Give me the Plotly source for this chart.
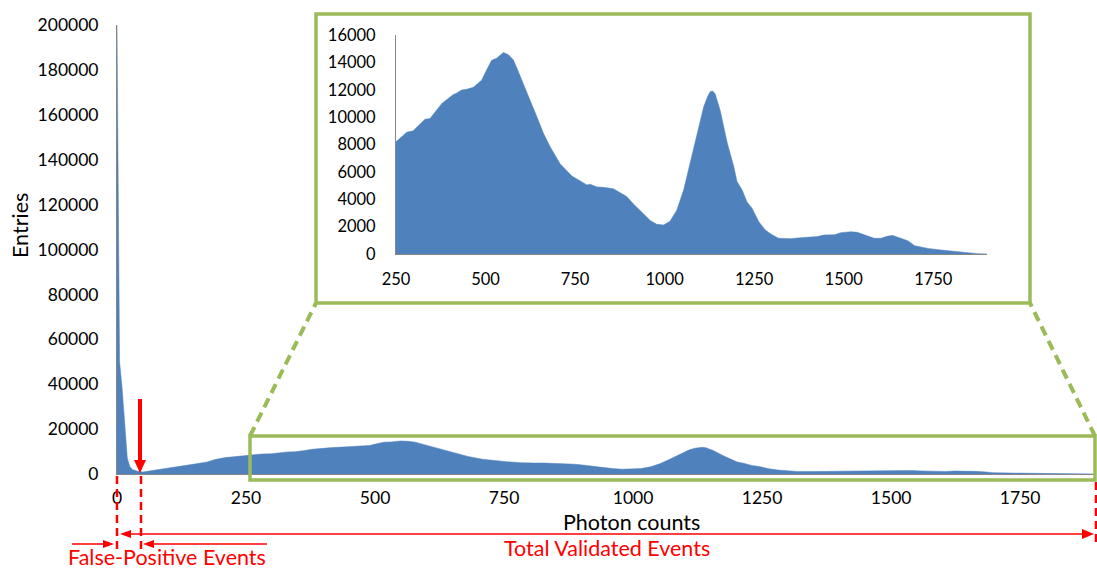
import plotly.graph_objects as go

# ---------------- data ----------------
photon_counts = [0, 5, 10, 15, 20, 25, 30, 40, 50, 75, 100, 125, 150, 175, 190, 210, 230,
                 250, 280, 298, 331, 345, 364, 378, 410, 419, 433, 447, 466, 489, 503, 517, 531,
                 550, 564, 578, 592, 606, 624, 643, 662, 680, 708, 741, 755, 783, 792, 811, 829,
                 857, 876, 894, 913, 941, 960, 978, 997, 1015, 1034, 1053, 1071, 1090, 1109, 1120,
                 1127, 1134, 1141, 1155, 1175, 1193, 1202, 1216, 1230, 1244, 1263, 1281, 1300, 1318, 1351,
                 1379, 1407, 1426, 1445, 1474, 1492, 1520, 1538, 1557, 1585, 1604, 1623, 1637, 1660,
                 1679, 1698, 1735, 1772, 1809, 1846, 1874, 1900]
entries = [200000, 50000, 38000, 22000, 7000, 3200, 2000, 1200, 900, 1800, 2600, 3500, 4400, 5400, 6500, 7300, 7900,
           8200, 8900, 9000, 9850, 9900, 10500, 11000, 11650, 11750, 11980, 12030, 12180, 12700, 13450, 14150, 14300,
           14730, 14550, 14170, 13300, 12450, 11250, 10050, 8800, 7850, 6600, 5700, 5480, 5050, 5100, 4900, 4870,
           4770, 4480, 4200, 3650, 2970, 2440, 2170, 2120, 2400, 3200, 4680, 6600, 8800, 10750, 11500,
           11850, 11900, 11700, 10500, 8100, 6400, 5300, 4700, 3800, 3350, 2350, 1750, 1400, 1150, 1120,
           1190, 1220, 1270, 1390, 1410, 1560, 1630, 1580, 1390, 1150, 1150, 1310, 1360, 1170,
           970, 610, 410, 290, 195, 50, 25, 0]

main_y_ticks = [0, 20000, 40000, 60000, 80000, 100000, 120000, 140000, 160000, 180000, 200000]
main_x_ticks = [0, 250, 500, 750, 1000, 1250, 1500, 1750]
inset_y_ticks = [0, 2000, 4000, 6000, 8000, 10000, 12000, 14000, 16000]
inset_x_ticks = [250, 500, 750, 1000, 1250, 1500, 1750]

inset_x = [x for x in photon_counts if x >= 250]
inset_y = [y for x, y in zip(photon_counts, entries) if x >= 250]

# ---------------- layout helpers ----------------
W, H = 1097, 570
BLUE = "#4F81BD"
GREEN = "#9BBB59"
RED = "#FF0000"
AXIS = "#868686"
FONT = "Lato"


def px(x):
    return x / W


def py(y):
    return 1 - y / H


fig = go.Figure()
fig.add_trace(go.Scatter(x=photon_counts, y=entries, mode="lines", fill="tozeroy",
                         line=dict(color=BLUE, width=0.5), fillcolor=BLUE,
                         xaxis="x", yaxis="y", hoverinfo="skip"))
fig.add_trace(go.Scatter(x=inset_x, y=inset_y, mode="lines", fill="tozeroy",
                         line=dict(color=BLUE, width=0.5), fillcolor=BLUE,
                         xaxis="x2", yaxis="y2", hoverinfo="skip"))

axis_common = dict(showgrid=False, zeroline=False, showline=True, linecolor=AXIS, linewidth=1,
                   ticks="", automargin=False, tickformat="d")
main_font = dict(family=FONT, size=17.5, color="black")
inset_font = dict(family=FONT, size=16.5, color="black")

fig.update_layout(
    width=W, height=H, margin=dict(l=0, r=0, t=0, b=0),
    paper_bgcolor="white", plot_bgcolor="rgba(0,0,0,0)", showlegend=False,
    xaxis=dict(domain=[px(117), px(1095)], range=[0, 1895], tickvals=main_x_ticks,
               anchor="y", ticklabelstandoff=8, tickfont=main_font, **axis_common),
    yaxis=dict(domain=[py(474), py(25)], range=[0, 200000], tickvals=main_y_ticks,
               anchor="x", ticklabelstandoff=14, tickfont=main_font, **axis_common),
    xaxis2=dict(domain=[px(396), px(987)], range=[250, 1900], tickvals=inset_x_ticks,
                anchor="y2", ticklabelstandoff=10, tickfont=inset_font, **axis_common),
    yaxis2=dict(domain=[py(254), py(35)], range=[0, 16000], tickvals=inset_y_ticks,
                anchor="x2", ticklabelstandoff=16, tickfont=inset_font, **axis_common),
)

shapes = []


def line(x0, y0, x1, y1, color, width, dash="solid"):
    shapes.append(dict(type="line", xref="paper", yref="paper", x0=px(x0), y0=py(y0),
                       x1=px(x1), y1=py(y1), line=dict(color=color, width=width, dash=dash)))


def tri(points, color):
    path = "M " + " L ".join(f"{px(a)},{py(b)}" for a, b in points) + " Z"
    shapes.append(dict(type="path", xref="paper", yref="paper", path=path,
                       fillcolor=color, line=dict(color=color, width=0)))


# green inset frame and zoom box
shapes.append(dict(type="rect", xref="paper", yref="paper", x0=px(316), y0=py(303), x1=px(1030), y1=py(14),
                   line=dict(color=GREEN, width=3.5)))
shapes.append(dict(type="rect", xref="paper", yref="paper", x0=px(250), y0=py(480), x1=px(1095), y1=py(436),
                   line=dict(color=GREEN, width=3.5)))
line(250, 436, 316, 303, GREEN, 4, "10px,6px")
line(1095, 436, 1030, 303, GREEN, 4, "10px,6px")

# red dashed markers
line(117, 476, 117, 553, RED, 2.5, "8px,5px")
line(141, 476, 141, 553, RED, 2.5, "8px,5px")
line(1096, 482, 1096, 542, RED, 2.5, "8px,5px")

# down arrow
line(140, 399, 140, 462, RED, 4)
tri([(134, 460), (146, 460), (140, 473)], RED)

# Total validated arrow (double headed)
line(128, 534, 1084, 534, RED, 1.5)
tri([(120, 534), (131, 530), (131, 538)], RED)
tri([(1094, 534), (1082, 529), (1082, 539)], RED)

# False positive arrows
line(72, 544, 105, 544, RED, 1.5)
tri([(114, 544), (103, 540), (103, 548)], RED)
line(152, 544, 267, 544, RED, 1.5)
tri([(143, 544), (154, 540), (154, 548)], RED)

fig.update_layout(shapes=shapes)

annotations = [
    dict(text="Photon counts", x=px(631), y=py(522), font=dict(size=21.5, color="black", family=FONT)),
    dict(text="Entries", x=px(20), y=py(226), textangle=-90, font=dict(size=21.5, color="black", family=FONT)),
    dict(text="False-Positive Events", x=px(167), y=py(557), font=dict(size=21.5, color=RED, family=FONT)),
    dict(text="Total Validated Events", x=px(607), y=py(548), font=dict(size=21.5, color=RED, family=FONT)),
]
for a in annotations:
    a.update(xref="paper", yref="paper", showarrow=False, xanchor="center", yanchor="middle")
fig.update_layout(annotations=annotations)

fig.write_html("out.html")
